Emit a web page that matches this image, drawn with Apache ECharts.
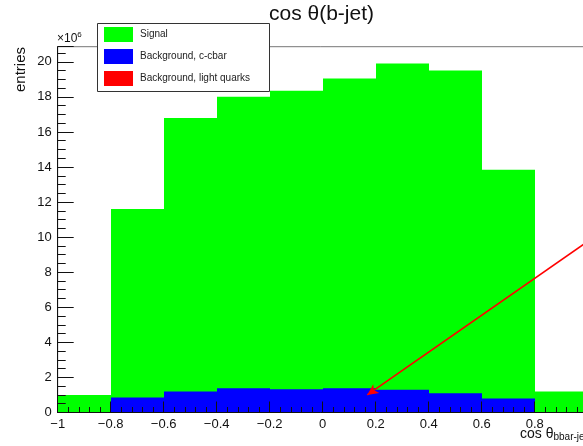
<!DOCTYPE html>
<html>
<head>
<meta charset="utf-8">
<script src="https://cdn.jsdelivr.net/npm/echarts@6/dist/echarts.min.js"></script>
<style>
  html, body { margin: 0; padding: 0; background: #fff; }
  #chart { width: 583px; height: 446px; }
</style>
</head>
<body>
<div id="chart"></div>
<script>
// Histogram bins of cos θ for the b-jet, entries in units of 10^6
const binEdges = [-1, -0.8, -0.6, -0.4, -0.2, 0, 0.2, 0.4, 0.6, 0.8, 1];
const signal = [1.0, 11.6, 16.8, 18.0, 18.35, 19.05, 19.9, 19.5, 13.85, 1.2];
const bgCcbar = [0, 0.85, 1.2, 1.38, 1.33, 1.38, 1.3, 1.1, 0.8, 0];
const bgLight = [0, 0, 0, 0, 0, 0, 0, 0, 0, 0];

const xTickLabels = ['\u22121', '\u22120.8', '\u22120.6', '\u22120.4', '\u22120.2', '0', '0.2', '0.4', '0.6', '0.8', '1'];
const yTickLabels = ['0', '2', '4', '6', '8', '10', '12', '14', '16', '18', '20'];

// annotation arrow (data coordinates)
const arrowFrom = [1.0, 9.75];
const arrowTo = [0.168, 1.0];

const FONT = '"Liberation Sans", Arial, Helvetica, sans-serif';

function binRows(values) {
  return values.map((v, i) => [binEdges[i], binEdges[i + 1], v]);
}

// one filled rectangle per bin; edges snapped to whole pixels so neighbouring bins join cleanly
function renderBin(params, api) {
  const p0 = api.coord([api.value(0), api.value(2)]);
  const p1 = api.coord([api.value(1), 0]);
  const x0 = Math.round(p0[0]);
  const x1 = Math.round(p1[0]);
  return {
    type: 'rect',
    shape: { x: x0, y: p0[1], width: x1 - x0, height: p1[1] - p0[1] },
    style: { fill: api.visual('color') }
  };
}

function histSeries(name, values, color) {
  return {
    type: 'custom',
    name: name,
    renderItem: renderBin,
    data: binRows(values),
    encode: { x: [0, 1], y: 2 },
    itemStyle: { color: color },
    silent: true,
    animation: false
  };
}

const chart = echarts.init(document.getElementById('chart'), null, { renderer: 'canvas' });

chart.setOption({
  animation: false,
  backgroundColor: '#fff',
  title: {
    text: 'cos \u03b8(b-jet)',
    left: 269,
    top: 4,
    padding: 0,
    textStyle: { fontFamily: FONT, fontSize: 21, fontWeight: 'normal', color: '#111' }
  },
  legend: {
    data: ['Signal', 'Background, c-cbar', 'Background, light quarks'],
    orient: 'vertical',
    left: 104,
    top: 27,
    padding: 0,
    itemWidth: 29,
    itemHeight: 15,
    itemGap: 7,
    icon: 'rect',
    selectedMode: false,
    z: 6,
    textStyle: { fontFamily: FONT, fontSize: 10, color: '#222', padding: [0, 0, 0, 2] }
  },
  grid: {
    left: 57.7,
    right: -4.7,
    top: 46.7,
    bottom: 33.5,
    show: true,
    borderColor: '#777',
    borderWidth: 1,
    backgroundColor: 'transparent',
    outerBoundsMode: 'none'
  },
  xAxis: {
    type: 'value',
    min: -1,
    max: 1,
    interval: 0.2,
    z: 5,
    axisLine: { show: true, onZero: false, lineStyle: { color: '#111', width: 1 } },
    axisTick: { show: true, inside: true, length: 11, lineStyle: { color: '#111' } },
    minorTick: { show: true, splitNumber: 5, length: 5.5, lineStyle: { color: '#111' } },
    splitLine: { show: false },
    axisLabel: {
      margin: 5,
      fontFamily: FONT,
      fontSize: 13,
      color: '#111',
      formatter: (v) => xTickLabels[Math.round((v - binEdges[0]) / 0.2)]
    }
  },
  yAxis: {
    type: 'value',
    min: 0,
    max: 20.86,
    interval: 2,
    z: 5,
    axisLine: { show: true, onZero: false, lineStyle: { color: '#111', width: 1 } },
    axisTick: { show: true, inside: true, length: 16, lineStyle: { color: '#111' } },
    minorTick: { show: true, splitNumber: 4, length: 8, lineStyle: { color: '#111' } },
    splitLine: { show: false },
    axisLabel: {
      margin: 6,
      fontFamily: FONT,
      fontSize: 13,
      color: '#111',
      showMaxLabel: false,
      formatter: (v) => {
        const i = Math.round(v / 2);
        return Math.abs(v - i * 2) < 1e-6 ? yTickLabels[i] : '';
      }
    }
  },
  series: [
    histSeries('Signal', signal, '#00ff00'),
    histSeries('Background, c-cbar', bgCcbar, '#0000ff'),
    histSeries('Background, light quarks', bgLight, '#ff0000'),
    {
      type: 'line',
      name: 'arrow',
      data: [],
      silent: true,
      z: 7,
      markLine: {
        silent: true,
        symbol: ['none', 'arrow'],
        symbolSize: [8, 11],
        label: { show: false },
        lineStyle: { color: '#ff0000', width: 1.6, type: 'solid' },
        emphasis: { disabled: true },
        data: [[{ coord: arrowFrom }, { coord: arrowTo }]]
      }
    }
  ],
  graphic: [
    // legend frame
    {
      type: 'rect',
      z: 4,
      shape: { x: 97.5, y: 23.5, width: 172, height: 68 },
      style: { fill: '#fff', stroke: '#333', lineWidth: 1 }
    },
    // y axis title
    {
      type: 'text',
      x: 21,
      y: 47,
      rotation: Math.PI / 2,
      z: 5,
      style: {
        text: 'entries',
        fontFamily: FONT,
        fontSize: 15,
        fill: '#111',
        align: 'right',
        verticalAlign: 'middle'
      }
    },
    // axis exponent
    {
      type: 'text',
      x: 57,
      y: 46,
      z: 5,
      style: {
        text: '\u00d710{s|6}',
        fontFamily: FONT,
        fontSize: 12,
        fill: '#111',
        align: 'left',
        verticalAlign: 'bottom',
        rich: { s: { fontFamily: FONT, fontSize: 8, fill: '#111', verticalAlign: 'top', padding: [0, 0, 7, 0] } }
      }
    },
    // x axis title
    {
      type: 'text',
      x: 520,
      y: 441,
      z: 5,
      style: {
        text: 'cos \u03b8{s|bbar-jet}',
        fontFamily: FONT,
        fontSize: 14,
        fill: '#111',
        align: 'left',
        verticalAlign: 'bottom',
        rich: { s: { fontFamily: FONT, fontSize: 10, fill: '#111', padding: [0, 0, -7, 0] } }
      }
    }
  ]
});
</script>
</body>
</html>
